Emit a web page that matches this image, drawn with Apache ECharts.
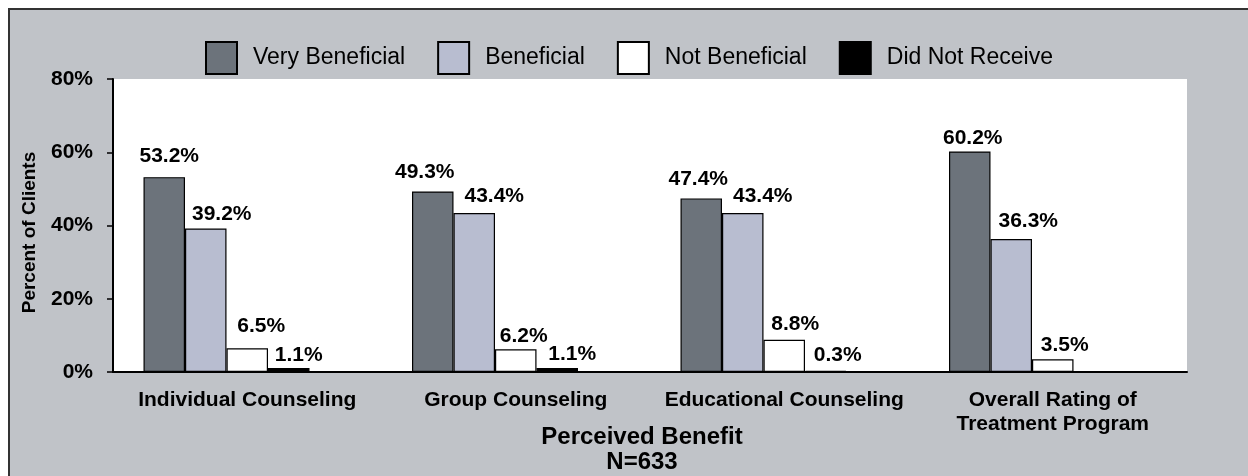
<!DOCTYPE html>
<html>
<head>
<meta charset="utf-8">
<style>
  html, body { margin: 0; padding: 0; background: #fff; }
  #chart { width: 1248px; height: 476px; }
</style>
<script src="https://cdn.jsdelivr.net/npm/echarts@6/dist/echarts.min.js"></script>
</head>
<body>
<div id="chart"></div>
<script>
// Perceived benefit of program components, N=633
const categories = [
  'Individual Counseling',
  'Group Counseling',
  'Educational Counseling',
  'Overall Rating of\nTreatment Program'
];
const seriesNames = ['Very Beneficial', 'Beneficial', 'Not Beneficial', 'Did Not Receive'];
const veryBeneficial = [53.2, 49.3, 47.4, 60.2];
const beneficial = [39.2, 43.4, 43.4, 36.3];
const notBeneficial = [6.5, 6.2, 8.8, 3.5];
const didNotReceive = [1.1, 1.1, 0.3, '-'];
const yTicks = [0, 20, 40, 60, 80];

const FONT = 'Liberation Sans, Arial, sans-serif';
const PANEL = '#C0C3C8';

const seriesValues = [veryBeneficial, beneficial, notBeneficial, didNotReceive];
const fills = ['#6C737B', '#B8BDD0', '#FFFFFF', '#000000'];
// value-label placement per bar: [horizontal shift, distance above bar]
const labelPlacement = [
  [[5, 10], [-8, 9], [-3, 9], [3, 3]],
  [[16, 4], [20, 6], [20, 6], [17, 7]],
  [[14, 11], [8, 3], [11, 5], [12, 3]],
  [[10, 2], [15, 3], [12, 5], [0, 0]]
];

const labelBase = {
  show: true,
  position: 'top',
  color: '#000',
  fontFamily: FONT,
  fontWeight: 'bold',
  fontSize: 21,
  formatter: p => (typeof p.value === 'number' ? p.value.toFixed(1) + '%' : '')
};

const series = seriesValues.map((vals, i) => ({
  name: seriesNames[i],
  type: 'bar',
  data: vals.map((v, j) => ({
    value: v,
    label: { offset: [labelPlacement[i][j][0], 0], distance: labelPlacement[i][j][1] }
  })),
  barWidth: 41.5,
  barGap: '0%',
  itemStyle: { color: fills[i], borderColor: '#000', borderWidth: 1.2 },
  label: labelBase,
  emphasis: { disabled: true }
}));
// an empty slot keeps each group of four bars left of its category centre
series.push({ type: 'bar', data: [], barWidth: 41.5, barGap: '0%', silent: true });

const chart = echarts.init(document.getElementById('chart'));
chart.setOption({
  animation: false,
  backgroundColor: PANEL,
  graphic: [
    { type: 'rect', shape: { x: 0, y: 0, width: 1248, height: 8 }, style: { fill: '#fff' }, silent: true },
    { type: 'rect', shape: { x: 0, y: 0, width: 8, height: 476 }, style: { fill: '#fff' }, silent: true },
    { type: 'polyline', shape: { points: [[9, 476], [9, 9], [1248, 9]] },
      style: { stroke: '#333', lineWidth: 2, fill: null }, silent: true }
  ],
  legend: {
    data: seriesNames,
    left: 205,
    top: 41,
    padding: 0,
    itemWidth: 31,
    itemHeight: 32,
    itemGap: 32,
    icon: 'rect',
    selectedMode: false,
    textStyle: { fontFamily: FONT, fontSize: 23, color: '#000', padding: [0, 0, 0, 11] }
  },
  grid: {
    left: 113, right: 61, top: 79, bottom: 104,
    outerBoundsMode: 'none',
    containLabel: false,
    show: true, backgroundColor: '#fff', borderWidth: 0
  },
  xAxis: {
    type: 'category',
    data: categories,
    axisLine: { lineStyle: { color: '#000', width: 2 } },
    axisTick: { show: false },
    axisLabel: {
      interval: 0, margin: 16, color: '#000',
      fontFamily: FONT, fontWeight: 'bold', fontSize: 21, lineHeight: 24
    },
    name: 'Perceived Benefit\nN=633',
    nameLocation: 'middle',
    nameGap: 53,
    nameMoveOverlap: false,
    nameTextStyle: {
      color: '#000', fontFamily: FONT, fontWeight: 'bold', fontSize: 24,
      lineHeight: 25, padding: [0, 16, 0, 0]
    }
  },
  yAxis: {
    type: 'value',
    min: yTicks[0],
    max: yTicks[yTicks.length - 1],
    interval: yTicks[1] - yTicks[0],
    axisLine: { show: true, lineStyle: { color: '#000', width: 2 } },
    axisTick: { show: true, length: 6, lineStyle: { color: '#000', width: 1.5 } },
    splitLine: { show: false },
    axisLabel: {
      margin: 20, color: '#000', fontFamily: FONT, fontWeight: 'bold', fontSize: 21,
      formatter: '{value}%'
    },
    name: 'Percent of Clients',
    nameLocation: 'middle',
    nameGap: 74,
    nameRotate: 90,
    nameMoveOverlap: false,
    nameTextStyle: { color: '#000', fontFamily: FONT, fontWeight: 'bold', fontSize: 19, padding: [0, 14, 0, 0] }
  },
  series: series
});
</script>
</body>
</html>
